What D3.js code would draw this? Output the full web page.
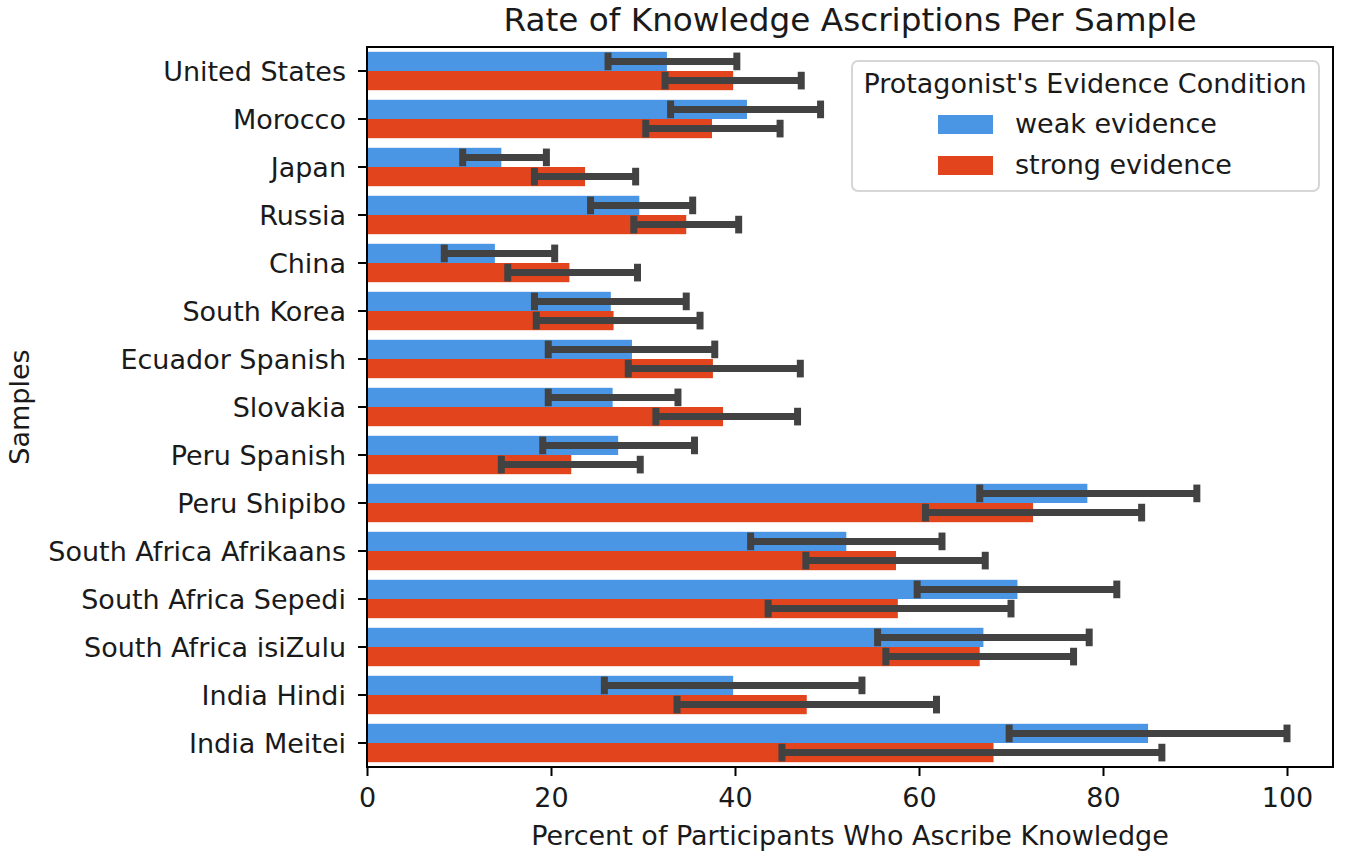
<html>
<head>
<meta charset="utf-8">
<script src="https://d3js.org/d3.v7.min.js"></script>
<style>
body {
  margin: 0;
  background: #fff;
}
text {
  font-family: "DejaVu Sans", sans-serif;
  fill: #1a1a1a;
}
.axis text {
  font-size: 27px;
}
.axis line {
  stroke: #000;
  stroke-width: 2;
}
.axis path {
  display: none;
}
</style>
</head>
<body>
<svg width="1350" height="865"></svg>
<script>

// samples, top to bottom
var samples = ["United States", "Morocco", "Japan", "Russia", "China", "South Korea",
  "Ecuador Spanish", "Slovakia", "Peru Spanish", "Peru Shipibo", "South Africa Afrikaans",
  "South Africa Sepedi", "South Africa isiZulu", "India Hindi", "India Meitei"];

var conditions = ["weak evidence", "strong evidence"];
var colors = ["#4a96e5", "#e2451d"];

// percent ascribing knowledge, with 95% interval ends
var weakMean   = [32.6, 41.3, 14.6, 29.6, 13.9, 26.5, 28.8, 26.7, 27.3, 78.3, 52.1, 70.7, 67.0, 39.8, 84.9];
var weakLow    = [26.2, 33.0, 10.4, 24.3,  8.4, 18.2, 19.7, 19.7, 19.1, 66.6, 41.7, 59.8, 55.5, 25.8, 69.8];
var weakHigh   = [40.2, 49.3, 19.5, 35.4, 20.4, 34.7, 37.8, 33.8, 35.6, 90.2, 62.5, 81.5, 78.5, 53.8, 100.0];
var strongMean = [39.8, 37.5, 23.7, 34.7, 22.0, 26.8, 37.6, 38.7, 22.2, 72.4, 57.5, 57.7, 66.6, 47.8, 68.1];
var strongLow  = [32.4, 30.3, 18.2, 29.0, 15.3, 18.4, 28.4, 31.4, 14.6, 60.7, 47.7, 43.6, 56.4, 33.7, 45.1];
var strongHigh = [47.2, 44.9, 29.2, 40.4, 29.4, 36.2, 47.1, 46.8, 29.7, 84.2, 67.2, 70.0, 76.8, 61.9, 86.4];

var xTicks = [0, 20, 40, 60, 80, 100];

var rows = [];
samples.forEach(function(s, i) {
  rows.push({sample: s, cond: conditions[0], mean: weakMean[i], lo: weakLow[i], hi: weakHigh[i]});
  rows.push({sample: s, cond: conditions[1], mean: strongMean[i], lo: strongLow[i], hi: strongHigh[i]});
});

var svg = d3.select("svg"),
    margin = {top: 47, right: 17, bottom: 98, left: 367},
    width = +svg.attr("width") - margin.left - margin.right,
    height = +svg.attr("height") - margin.top - margin.bottom;

var g = svg.append("g")
    .attr("transform", "translate(" + margin.left + "," + margin.top + ")");

var x = d3.scaleLinear()
    .domain([0, 105])
    .range([0, width]);

var y0 = d3.scaleBand()
    .domain(samples)
    .range([0, height])
    .paddingInner(0.2)
    .paddingOuter(0.1);

var y1 = d3.scaleBand()
    .domain(conditions)
    .range([0, y0.bandwidth()]);

var color = d3.scaleOrdinal()
    .domain(conditions)
    .range(colors);

// bars
g.selectAll(".bar")
  .data(rows)
  .enter().append("rect")
    .attr("class", "bar")
    .attr("x", x(0))
    .attr("y", d => y0(d.sample) + y1(d.cond))
    .attr("width", d => x(d.mean) - x(0))
    .attr("height", y1.bandwidth())
    .attr("fill", d => color(d.cond));

// error bars
var err = g.selectAll(".err")
  .data(rows)
  .enter().append("g")
    .attr("class", "err")
    .attr("transform", d => "translate(0," + (y0(d.sample) + y1(d.cond) + y1.bandwidth() / 2) + ")");

var cap = y1.bandwidth() * 0.46;

err.append("line")
    .attr("x1", d => x(d.lo))
    .attr("x2", d => x(d.hi))
    .attr("stroke", "#424242")
    .attr("stroke-width", 7);

err.append("line")
    .attr("x1", d => x(d.lo))
    .attr("x2", d => x(d.lo))
    .attr("y1", -cap)
    .attr("y2", cap)
    .attr("stroke", "#424242")
    .attr("stroke-width", 7);

err.append("line")
    .attr("x1", d => x(d.hi))
    .attr("x2", d => x(d.hi))
    .attr("y1", -cap)
    .attr("y2", cap)
    .attr("stroke", "#424242")
    .attr("stroke-width", 7);

// axes
g.append("g")
    .attr("class", "axis")
    .call(d3.axisLeft(y0).tickSize(9).tickPadding(12).tickSizeOuter(0))
    .selectAll("text").attr("dy", "0.36em");

g.append("g")
    .attr("class", "axis")
    .attr("transform", "translate(0," + height + ")")
    .call(d3.axisBottom(x).tickValues(xTicks).tickFormat(d3.format("d")).tickSize(9).tickPadding(12));

// frame
g.append("rect")
    .attr("width", width)
    .attr("height", height)
    .attr("fill", "none")
    .attr("stroke", "#000")
    .attr("stroke-width", 2);

// titles
svg.append("text")
    .attr("x", margin.left + width / 2)
    .attr("y", 31)
    .attr("text-anchor", "middle")
    .style("font-size", "32.7px")
    .text("Rate of Knowledge Ascriptions Per Sample");

svg.append("text")
    .attr("x", margin.left + width / 2)
    .attr("y", 845)
    .attr("text-anchor", "middle")
    .style("font-size", "27px")
    .text("Percent of Participants Who Ascribe Knowledge");

svg.append("text")
    .attr("transform", "translate(29," + (margin.top + height / 2) + ") rotate(-90)")
    .attr("text-anchor", "middle")
    .style("font-size", "27px")
    .text("Samples");

// legend
var lg = svg.append("g")
    .attr("transform", "translate(852,61)");

lg.append("rect")
    .attr("width", 467)
    .attr("height", 130)
    .attr("rx", 6)
    .attr("fill", "#fff")
    .attr("fill-opacity", 0.8)
    .attr("stroke", "#d6d6d6")
    .attr("stroke-width", 2);

lg.append("text")
    .attr("x", 233)
    .attr("y", 32)
    .attr("text-anchor", "middle")
    .style("font-size", "27px")
    .text("Protagonist's Evidence Condition");

conditions.forEach(function(c, i) {
  lg.append("rect")
      .attr("x", 86)
      .attr("y", 54 + i * 41)
      .attr("width", 55)
      .attr("height", 19)
      .attr("fill", color(c));
  lg.append("text")
      .attr("x", 163)
      .attr("y", 72 + i * 41)
      .style("font-size", "27px")
      .text(c);
});

</script>
</body>
</html>
